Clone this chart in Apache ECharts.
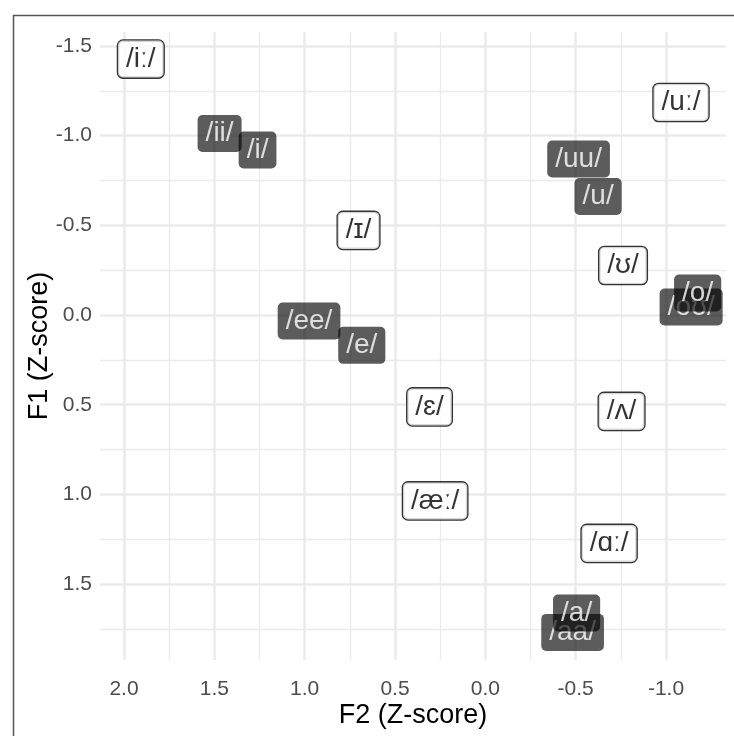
<!DOCTYPE html>
<html>
<head>
<meta charset="utf-8">
<script src="https://cdn.jsdelivr.net/npm/echarts@6/dist/echarts.min.js"></script>
<style>html,body{margin:0;padding:0;background:#fff}#c{width:734px;height:736px}</style>
</head>
<body>
<div id="c"></div>
<script>
// Light (outlined) vowel labels
const lightNames = ['/iː/', '/uː/', '/ɪ/', '/ʊ/', '/ɛ/', '/ʌ/', '/æː/', '/ɑː/'];
const lightF2 = [1.907, -1.083, 0.702, -0.762, 0.309, -0.754, 0.278, -0.685];
const lightF1 = [-1.427, -1.185, -0.472, -0.276, 0.512, 0.537, 1.036, 1.273];
// Dark (filled) vowel labels, drawn in this order
const darkNames = ['/ii/', '/i/', '/uu/', '/u/', '/oʊ/', '/o/', '/ee/', '/e/', '/aa/', '/a/'];
const darkF2 = [1.471, 1.261, -0.516, -0.624, -1.139, -1.175, 0.976, 0.684, -0.483, -0.505];
const darkF1 = [-1.012, -0.920, -0.870, -0.661, -0.045, -0.123, 0.033, 0.169, 1.769, 1.661];
// Axis ticks
const xMajor = [2.0, 1.5, 1.0, 0.5, 0.0, -0.5, -1.0];
const xMinor = [1.75, 1.25, 0.75, 0.25, -0.25, -0.75];
const yMajor = [-1.5, -1.0, -0.5, 0.0, 0.5, 1.0, 1.5];
const yMinor = [-1.25, -0.75, -0.25, 0.25, 0.75, 1.25, 1.75];
const xLim = [-1.332, 2.133];
const yLim = [-1.578, 1.923];

const FONT = '"Liberation Sans", Arial, Helvetica, sans-serif';

function mk(names, xs, ys) {
  return names.map((n, i) => ({ name: n, value: [xs[i], ys[i]] }));
}
const fmt = v => Number(v).toFixed(1);

function xAxisDef(ticks, main, width) {
  return {
    type: 'value', position: 'bottom', offset: 0, min: xLim[0], max: xLim[1], inverse: true,
    name: main ? 'F2 (Z-score)' : '', nameLocation: 'middle', nameGap: 42, nameMoveOverlap: false,
    nameTextStyle: { fontFamily: FONT, fontSize: 27, color: '#000' },
    axisLine: { show: false }, axisTick: { show: false, customValues: ticks },
    axisLabel: { show: main, customValues: ticks, formatter: fmt, fontFamily: FONT, fontSize: 21, color: '#4d4d4d', margin: 19 },
    splitLine: { show: true, lineStyle: { color: '#ebebeb', width: width } }
  };
}
function yAxisDef(ticks, main, width) {
  return {
    type: 'value', position: 'left', offset: 0, min: yLim[0], max: yLim[1], inverse: true,
    name: main ? 'F1 (Z-score)' : '', nameLocation: 'middle', nameGap: 47, nameMoveOverlap: false,
    nameTextStyle: { fontFamily: FONT, fontSize: 27, color: '#000' },
    axisLine: { show: false }, axisTick: { show: false, customValues: ticks },
    axisLabel: { show: main, customValues: ticks, formatter: fmt, fontFamily: FONT, fontSize: 21, color: '#4d4d4d', margin: 8 },
    splitLine: { show: true, lineStyle: { color: '#ebebeb', width: width } }
  };
}

const baseLabel = {
  show: true, position: 'inside', formatter: '{b}',
  fontFamily: FONT, fontSize: 28, lineHeight: 21,
  padding: [8, 8, 8, 8], borderRadius: 5
};

const chart = echarts.init(document.getElementById('c'), null, { renderer: 'canvas' });
chart.setOption({
  animation: false,
  backgroundColor: '#fff',
  grid: { left: 100, right: 8, top: 32, bottom: 76, containLabel: false, outerBoundsMode: 'none' },
  xAxis: [xAxisDef(xMinor, false, 1.3), xAxisDef(xMajor, true, 2.5)],
  yAxis: [yAxisDef(yMinor, false, 1.3), yAxisDef(yMajor, true, 2.5)],
  graphic: [{
    type: 'rect', left: 11, top: 13, silent: true, z: 100,
    shape: { width: 760, height: 760 },
    style: { fill: 'none', stroke: '#555', lineWidth: 1.5 }
  }],
  series: [
    {
      type: 'scatter', xAxisIndex: 1, yAxisIndex: 1,
      symbolSize: 1, itemStyle: { color: 'rgba(0,0,0,0)' },
      data: mk(lightNames, lightF2, lightF1),
      label: Object.assign({}, baseLabel, { color: '#000', backgroundColor: '#fff', borderColor: '#000', borderWidth: 1.3 }),
      labelLayout: { hideOverlap: false },
      emphasis: { disabled: true }, silent: true
    },
    {
      type: 'scatter', xAxisIndex: 1, yAxisIndex: 1,
      symbolSize: 1, itemStyle: { color: 'rgba(0,0,0,0)' },
      data: mk(darkNames, darkF2, darkF1),
      label: Object.assign({}, baseLabel, { color: '#fff', backgroundColor: 'rgba(0,0,0,0.8)' }),
      labelLayout: { hideOverlap: false },
      emphasis: { disabled: true }, silent: true
    }
  ]
});
</script>
</body>
</html>
